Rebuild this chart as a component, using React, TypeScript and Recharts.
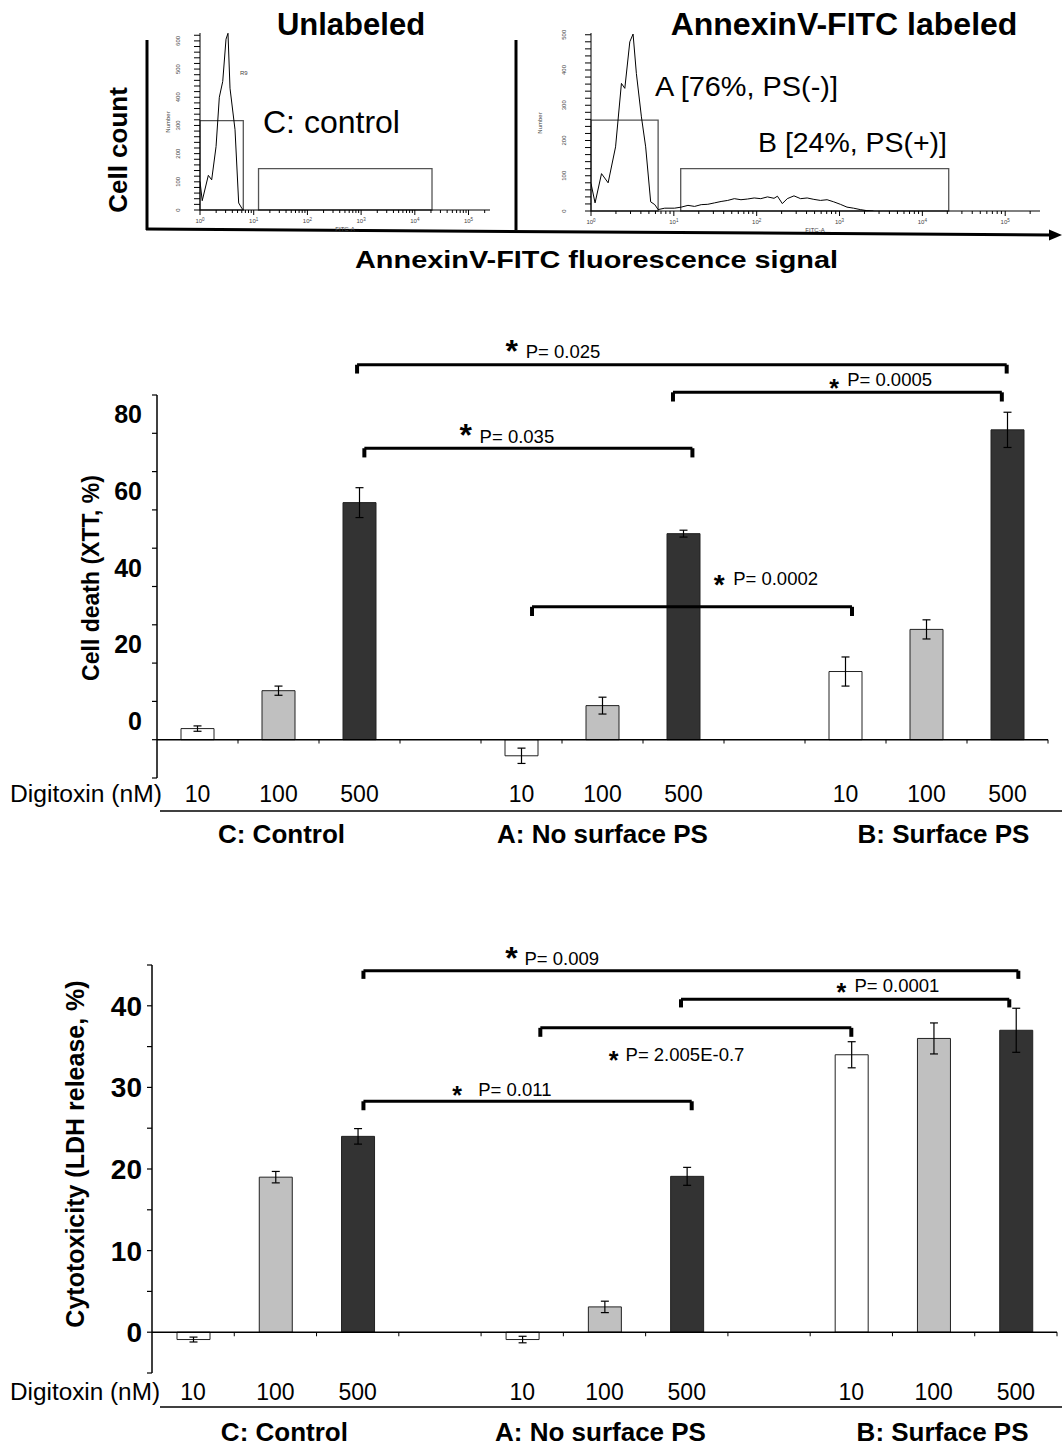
import React from 'react'
import {
  ComposedChart, LineChart, Line, Bar, Cell, ErrorBar, XAxis, YAxis,
  ReferenceLine, ReferenceArea, ReferenceDot,
} from 'recharts'

const FONT = '"Liberation Sans", Arial, Helvetica, sans-serif'

// ---- flow cytometry histograms (FITC-A intensity vs cell number) ----
const unlabeledFitc = [1.0, 1.1, 1.43, 1.65, 1.99, 2.29, 2.65, 3.05, 3.32, 3.62, 4.49, 5.25, 5.97, 6.4]
const unlabeledCount = [101, 33, 123, 107, 225, 400, 456, 606, 627, 432, 285, 25, 7, 0]

const labeledFitc = [
  1.0, 1.12, 1.34, 1.61, 1.98, 2.33, 2.56, 2.94, 3.22, 3.53, 4.06, 4.57, 5.25, 5.89, 6.46, 7.76,
  10.2, 12.3, 14.8, 17.8, 21.4, 25.7, 30.9, 37.2, 44.7, 53.7, 64.6, 77.6, 93.3, 112, 135, 162,
  178, 204, 234, 282, 339, 407, 490, 589, 708, 851, 1023, 1230, 1479, 1778, 2138, 2570,
]
const labeledCount = [
  78, 23, 106, 80, 182, 362, 348, 480, 502, 390, 267, 182, 26, 18, 4, 8,
  8, 11, 16, 13, 18, 19, 23, 27, 30, 35, 32, 34, 37, 35, 40, 36,
  42, 21, 35, 43, 35, 37, 33, 30, 32, 26, 19, 11, 8, 4, 1, 0,
]

// gates: [from, to, height]
const unlabeledGates = [[1, 6.4, 317], [12.3, 20900, 147]]
const labeledGates = [[1, 6.46, 258], [12.1, 20800, 120]]

// ---- bar charts ----
const slots = ['C10', 'C100', 'C500', 'gap1', 'A10', 'A100', 'A500', 'gap2', 'B10', 'B100', 'B500']
const doseLabels = ['10', '100', '500', '', '10', '100', '500', '', '10', '100', '500']
const groupNames = ['C: Control', 'A: No surface PS', 'B: Surface PS']
const groupMiddle = [1, 5, 9]

const xttValues = [2.9, 12.8, 61.9, null, -4.2, 8.9, 53.8, null, 17.8, 28.8, 80.9]
const xttErrors = [0.7, 1.2, 3.9, null, 2.0, 2.2, 0.9, null, 3.8, 2.5, 4.6]

const ldhValues = [-0.9, 19.0, 24.0, null, -0.9, 3.1, 19.1, null, 34.0, 36.0, 37.0]
const ldhErrors = [0.3, 0.7, 0.95, null, 0.4, 0.7, 1.1, null, 1.6, 1.9, 2.7]

// significance brackets (slot units on x, value units on y)
const xttBrackets = [
  { from: 2.47, to: 10.49, y: 97.9, leg: 95.6 },
  { from: 6.37, to: 10.43, y: 90.7, leg: 88.3 },
  { from: 2.56, to: 6.61, y: 76.1, leg: 73.7 },
  { from: 4.63, to: 8.58, y: 34.7, leg: 32.3 },
]
const xttPLabels = [
  { x: 4.38, y: 103.4, text: 'P= 0.025', star: 32, gap: 14, textDy: 8 },
  { x: 8.36, y: 93.3, text: 'P= 0.0005', star: 25, gap: 13, textDy: -3 },
  { x: 3.81, y: 81.4, text: 'P= 0.035', star: 32, gap: 14, textDy: 8 },
  { x: 6.94, y: 42.2, text: 'P= 0.0002', star: 28, gap: 14, textDy: 0 },
]

const ldhBrackets = [
  { from: 2.57, to: 10.53, y: 44.3, leg: 43.3 },
  { from: 6.43, to: 10.42, y: 40.8, leg: 39.8 },
  { from: 4.72, to: 8.5, y: 37.3, leg: 36.2 },
  { from: 2.57, to: 6.56, y: 28.3, leg: 27.2 },
]
const ldhPLabels = [
  { x: 4.37, y: 46.7, text: 'P= 0.009', star: 32, gap: 13, textDy: 7 },
  { x: 8.38, y: 42.3, text: 'P= 0.0001', star: 25, gap: 13, textDy: -2 },
  { x: 5.61, y: 33.96, text: 'P= 2.005E-0.7', star: 25, gap: 12, textDy: -1 },
  { x: 3.71, y: 29.7, text: 'P= 0.011', star: 25, gap: 21, textDy: -1 },
]

const doseFill: Record<string, string> = { '10': '#ffffff', '100': '#c0c0c0', '500': '#333333' }

// log axis ticks for the histograms
const logTicks: number[] = []
for (let d = 0; d <= 5; d++) {
  for (let m = 1; m <= 9; m++) {
    const v = m * Math.pow(10, d)
    if (v <= 250000) logTicks.push(v)
  }
}
const countTicks = (max: number) => {
  const t: number[] = []
  for (let v = 0; v <= max; v += 20) t.push(v)
  return t
}

const LogTick = (props: any) => {
  const { x, y, payload } = props
  const e = Math.log10(payload.value)
  const major = Math.abs(e - Math.round(e)) < 1e-6
  return (
    <g>
      <line x1={x} x2={x} y1={y} y2={y + (major ? 5 : 3)} stroke="#000" strokeWidth={1} />
      {major && (
        <text x={x} y={y + 13} fontSize={6} textAnchor="middle" fill="#444" fontFamily={FONT}>
          10<tspan dy={-2.5} fontSize={4.5}>{Math.round(e)}</tspan>
        </text>
      )}
    </g>
  )
}

const CountTick = (props: any) => {
  const { x, y, payload, labelOffset } = props
  const v = payload.value
  return (
    <g>
      <line x1={x - 6} x2={x} y1={y} y2={y} stroke="#000" strokeWidth={1} />
      {v % 100 === 0 && (
        <text transform={`translate(${x - labelOffset},${y}) rotate(-90)`} fontSize={6} textAnchor="middle" fill="#444" fontFamily={FONT}>
          {v}
        </text>
      )}
    </g>
  )
}

const Histogram = ({ left, width, height, fitc, counts, yMax, xMax, gates, labelOffset }: any) => {
  const rows = fitc.map((f: number, i: number) => ({ fitc: f, count: counts[i] }))
  return (
    <div style={{ position: 'absolute', left, top: 25 }}>
      <LineChart width={width} height={height} data={rows} margin={{ top: 8, right: 10, bottom: 0, left: 0 }}>
        <XAxis
          dataKey="fitc" type="number" scale="log" domain={[1, xMax]} allowDataOverflow
          ticks={logTicks} interval={0} height={25} tickSize={0} tickMargin={0} tickLine={false}
          axisLine={{ stroke: '#000', strokeWidth: 1 }} tick={(p: any) => <LogTick {...p} />}
        />
        <YAxis
          type="number" domain={[0, yMax]} allowDataOverflow ticks={countTicks(yMax)} interval={0}
          width={50} tickSize={0} tickMargin={0} tickLine={false}
          axisLine={{ stroke: '#000', strokeWidth: 1 }} tick={(p: any) => <CountTick {...p} labelOffset={labelOffset} />}
        />
        {gates.map((g: number[], i: number) => (
          <ReferenceArea key={i} x1={g[0]} x2={g[1]} y1={0} y2={g[2]} fill="none" fillOpacity={0} stroke="#555" strokeWidth={1.3} ifOverflow="visible" />
        ))}
        <Line dataKey="count" type="linear" stroke="#000" strokeWidth={1} dot={false} isAnimationActive={false} />
      </LineChart>
    </div>
  )
}

const DoseTick = (props: any) => {
  const { x, y, payload, doseDy, groupDy, groupDx } = props
  const i = slots.indexOf(payload.value)
  const g = groupMiddle.indexOf(i)
  return (
    <g>
      {doseLabels[i] && (
        <text x={x} y={y + doseDy} textAnchor="middle" fontSize={23} fill="#000" fontFamily={FONT}>
          {doseLabels[i]}
        </text>
      )}
      {g >= 0 && (
        <text x={x + groupDx[g]} y={y + groupDy} textAnchor="middle" fontSize={26} fontWeight="bold" fill="#000" fontFamily={FONT}>
          {groupNames[g]}
        </text>
      )}
    </g>
  )
}

const ValueTick = (props: any) => {
  const { x, y, payload, shown, shift, fontSize } = props
  if (!shown.includes(payload.value)) return <g />
  return (
    <text x={x} y={y + shift} dy="0.36em" textAnchor="end" fontSize={fontSize} fontWeight="bold" fill="#000" fontFamily={FONT}>
      {payload.value}
    </text>
  )
}

const PText = ({ cx, cy, text, star, gap, textDy }: any) => (
  <g fontFamily={FONT}>
    <text x={cx} y={cy} dy="0.57em" textAnchor="middle" fontSize={star} fontWeight="bold" fill="#000">*</text>
    <text x={cx + gap} y={cy + textDy} dy="0.36em" fontSize={18.5} fill="#000">{text}</text>
  </g>
)

const DoseBarChart = (cfg: any) => {
  const rows = slots.map((s, i) => ({ slot: s, pos: i + 0.5, value: cfg.values[i], err: cfg.errors[i] }))
  const boundaries = [1, 2, 3, 4, 5, 6, 7, 8, 9, 10, 11]
  return (
    <div style={{ position: 'absolute', left: 0, top: cfg.top }}>
      <ComposedChart
        width={1062} height={cfg.height} data={rows} barSize={33}
        margin={{ top: cfg.plotTop, right: cfg.rightMargin, bottom: 0, left: 0 }}
      >
        <XAxis
          xAxisId="cat" dataKey="slot" height={cfg.xAxisHeight} interval={0}
          axisLine={false} tickLine={false} tickSize={0} tickMargin={0}
          tick={(p: any) => <DoseTick {...p} doseDy={cfg.doseDy} groupDy={cfg.groupDy} groupDx={cfg.groupDx} />}
        />
        <XAxis xAxisId="num" dataKey="pos" type="number" domain={[0, 11]} allowDataOverflow hide />
        <YAxis
          type="number" domain={cfg.domain} ticks={cfg.ticks} interval={0} allowDataOverflow
          width={cfg.yAxisWidth} tickSize={5} tickMargin={cfg.tickMargin}
          axisLine={{ stroke: '#000', strokeWidth: 1.5 }} tickLine={{ stroke: '#000', strokeWidth: 1.2 }}
          tick={(p: any) => <ValueTick {...p} shown={cfg.shown} shift={cfg.labelShift} fontSize={cfg.labelFont} />}
        />
        <Bar xAxisId="cat" dataKey="value" isAnimationActive={false} stroke="#222" strokeWidth={1}>
          {rows.map((r, i) => (
            <Cell key={r.slot} fill={doseFill[doseLabels[i]] ?? 'none'} stroke={doseLabels[i] ? '#222' : 'none'} />
          ))}
          <ErrorBar dataKey="err" width={4} stroke="#000" strokeWidth={1.2} isAnimationActive={false} />
        </Bar>
        <ReferenceLine xAxisId="num" y={0} stroke="#000" strokeWidth={1.5} />
        {boundaries.map((b) => (
          <ReferenceLine key={b} xAxisId="num" segment={[{ x: b, y: 0 }, { x: b, y: -cfg.unitTick }]} stroke="#000" strokeWidth={1} ifOverflow="visible" />
        ))}
        {cfg.brackets.map((b: any, i: number) => [
          <ReferenceLine key={`h${i}`} xAxisId="num" segment={[{ x: b.from, y: b.y }, { x: b.to, y: b.y }]} stroke="#000" strokeWidth={3} ifOverflow="visible" />,
          <ReferenceLine key={`l${i}`} xAxisId="num" segment={[{ x: b.from, y: b.y }, { x: b.from, y: b.leg }]} stroke="#000" strokeWidth={4} ifOverflow="visible" />,
          <ReferenceLine key={`r${i}`} xAxisId="num" segment={[{ x: b.to, y: b.y }, { x: b.to, y: b.leg }]} stroke="#000" strokeWidth={4} ifOverflow="visible" />,
        ])}
        {cfg.pLabels.map((l: any, i: number) => (
          <ReferenceDot
            key={`p${i}`} xAxisId="num" x={l.x} y={l.y} r={0} ifOverflow="visible"
            shape={(p: any) => <PText cx={p.cx} cy={p.cy} {...l} />}
          />
        ))}
      </ComposedChart>
    </div>
  )
}

const Overlay = () => (
  <svg width={1062} height={1447} style={{ position: 'absolute', left: 0, top: 0, pointerEvents: 'none' }} fontFamily={FONT}>
    {/* top panel frame */}
    <line x1={147} y1={40} x2={147} y2={230} stroke="#000" strokeWidth={3} />
    <line x1={516} y1={40} x2={516} y2={230} stroke="#000" strokeWidth={3} />
    <line x1={146} y1={229} x2={1052} y2={235} stroke="#000" strokeWidth={3} />
    <polygon points="1049,229.5 1062,235 1049,240.5" fill="#000" />
    <text x={351} y={35} textAnchor="middle" fontSize={31} fontWeight="bold">Unlabeled</text>
    <text x={844} y={35} textAnchor="middle" fontSize={32} fontWeight="bold">AnnexinV-FITC labeled</text>
    <text transform="translate(127,150) rotate(-90)" textAnchor="middle" fontSize={26} fontWeight="bold">Cell count</text>
    <text x={355} y={268} fontSize={24} fontWeight="bold" textLength={483} lengthAdjust="spacingAndGlyphs">AnnexinV-FITC fluorescence signal</text>
    <text x={263} y={133} fontSize={32}>C: control</text>
    <text x={655} y={96} fontSize={28} textLength={183} lengthAdjust="spacingAndGlyphs">A [76%, PS(-)]</text>
    <text x={758} y={152} fontSize={28} textLength={189} lengthAdjust="spacingAndGlyphs">B [24%, PS(+)]</text>
    <text x={240} y={75} fontSize={6} fill="#444">R9</text>
    <text x={345} y={231} fontSize={6} textAnchor="middle" fill="#444">FITC-A</text>
    <text x={815} y={232} fontSize={6} textAnchor="middle" fill="#444">FITC-A</text>
    <text transform="translate(170,122) rotate(-90)" fontSize={6} textAnchor="middle" fill="#444">Number</text>
    <text transform="translate(542,123) rotate(-90)" fontSize={6} textAnchor="middle" fill="#444">Number</text>

    {/* XTT panel */}
    <text transform="translate(99,578) rotate(-90)" textAnchor="middle" fontSize={23} fontWeight="bold">Cell death (XTT, %)</text>
    <text x={10} y={802} fontSize={23} textLength={152} lengthAdjust="spacingAndGlyphs">Digitoxin (nM)</text>
    <line x1={160} y1={811} x2={1062} y2={811} stroke="#000" strokeWidth={1.5} />

    {/* LDH panel */}
    <text transform="translate(84,1154) rotate(-90)" textAnchor="middle" fontSize={25} fontWeight="bold">Cytotoxicity (LDH release, %)</text>
    <text x={10} y={1400} fontSize={23} textLength={150} lengthAdjust="spacingAndGlyphs">Digitoxin (nM)</text>
    <line x1={160} y1={1407} x2={1062} y2={1407} stroke="#000" strokeWidth={1.5} />
  </svg>
)

export default function App() {
  return (
    <div style={{ position: 'absolute', left: 0, top: 0, width: 1062, height: 1447, overflow: 'hidden', background: '#fff', fontFamily: FONT }}>
      <Histogram left={150} width={350} height={210} fitc={unlabeledFitc} counts={unlabeledCount} yMax={628} xMax={251189} gates={unlabeledGates} labelOffset={20} />
      <Histogram left={541} width={509} height={211} fitc={labeledFitc} counts={labeledCount} yMax={505} xMax={263027} gates={labeledGates} labelOffset={25} />
      <DoseBarChart
        top={330} height={528} plotTop={65} yAxisWidth={157} rightMargin={14} xAxisHeight={80}
        values={xttValues} errors={xttErrors}
        domain={[-10, 90]} ticks={[-10, 0, 10, 20, 30, 40, 50, 60, 70, 80, 90]} shown={[0, 20, 40, 60, 80]}
        labelShift={-19} labelFont={25} tickMargin={10} unitTick={1}
        doseDy={24} groupDy={65} groupDx={[3, 0, 17]}
        brackets={xttBrackets} pLabels={xttPLabels}
      />
      <DoseBarChart
        top={900} height={547} plotTop={65} yAxisWidth={152} rightMargin={5} xAxisHeight={74}
        values={ldhValues} errors={ldhErrors}
        domain={[-5, 45]} ticks={[-5, 0, 5, 10, 15, 20, 25, 30, 35, 40, 45]} shown={[0, 10, 20, 30, 40]}
        labelShift={0} labelFont={28} tickMargin={5} unitTick={0.5}
        doseDy={27} groupDy={68} groupDx={[9, -4, 9]}
        brackets={ldhBrackets} pLabels={ldhPLabels}
      />
      <Overlay />
    </div>
  )
}
